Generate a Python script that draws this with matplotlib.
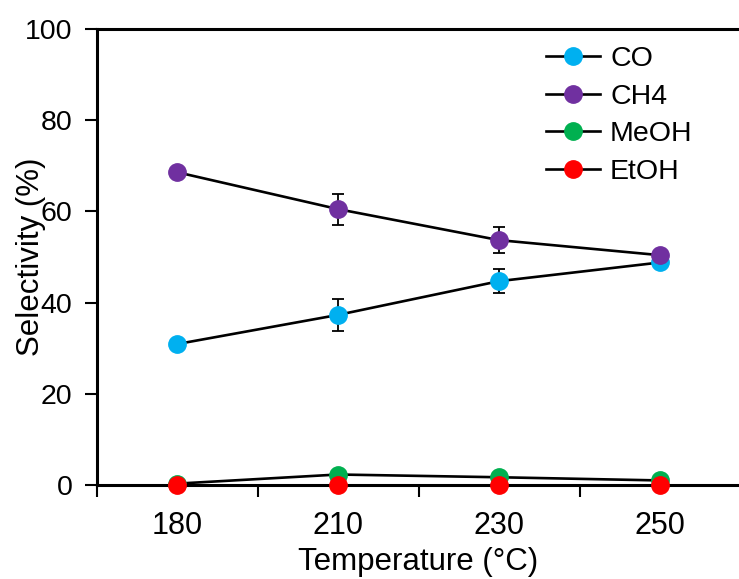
import matplotlib
matplotlib.use("Agg")
import matplotlib.pyplot as plt
import numpy as np

plt.rcParams['font.family'] = ['Liberation Sans', 'DejaVu Sans']

temperatures = ["180", "210", "230", "250"]
co = [30.9, 37.3, 44.7, 48.8]
co_err = [0.0, 3.5, 2.6, 0.0]
ch4 = [68.6, 60.5, 53.7, 50.4]
ch4_err = [0.0, 3.4, 2.85, 0.0]
meoh = [0.3, 2.3, 1.7, 1.0]
etoh = [0.0, 0.0, 0.0, 0.0]

series = [
    ("CO", co, co_err, "#00B0F0"),
    ("CH4", ch4, ch4_err, "#7030A0"),
    ("MeOH", meoh, None, "#00B050"),
    ("EtOH", etoh, None, "#FF0000"),
]

fig = plt.figure(figsize=(7.39, 5.79), dpi=100)
W, H = 739, 579
left, right, top, bottom = 96.5, 740.5, 29, 485
ax = fig.add_axes([left / W, 1 - bottom / H, (right - left) / W, (bottom - top) / H])

x = np.arange(len(temperatures)) + 0.5
for z, (name, vals, err, color) in enumerate(series):
    ax.plot(x, vals, color="black", lw=1.9, marker="o", markersize=12.5,
            markerfacecolor=color, markeredgecolor=color, label=name,
            zorder=3 + z, clip_on=False)
    if err is not None:
        ax.errorbar(x, vals, yerr=err, fmt="none", ecolor="black",
                    elinewidth=1.3, capsize=4.5, capthick=1.3, zorder=2 + z)

ax.set_xlim(0, 4)
ax.set_ylim(0, 100)

ax.set_xticks(np.arange(0, 5))
ax.set_xticklabels([])
ax.set_xticks(x, minor=True)
ax.set_xticklabels(temperatures, minor=True)
ax.tick_params(axis="x", which="major", direction="out", length=8.6, width=1.5)
ax.tick_params(axis="x", which="minor", length=0, pad=19, labelsize=22)
ax.set_yticks([0, 20, 40, 60, 80, 100])
ax.tick_params(axis="y", direction="out", length=8.6, width=1.5, labelsize=20.5, pad=8.6)

for s in ["left", "top", "bottom"]:
    ax.spines[s].set_linewidth(2.2)
ax.spines["right"].set_visible(False)

ax.set_xlabel("Temperature (°C)", fontsize=22.5)
ax.xaxis.set_label_coords(0.5, -0.135)
ax.set_ylabel("Selectivity (%)", fontsize=22.5)
ax.yaxis.set_label_coords(-0.078, 0.5)

leg = ax.legend(loc="upper left",
                bbox_to_anchor=((546 - left) / (right - left), (bottom - 46) / (bottom - top)),
                frameon=False, fontsize=20.5, handlelength=1.9, handletextpad=0.35,
                labelspacing=0.41, borderaxespad=0, borderpad=0)

fig.savefig("out.png", dpi=100)
